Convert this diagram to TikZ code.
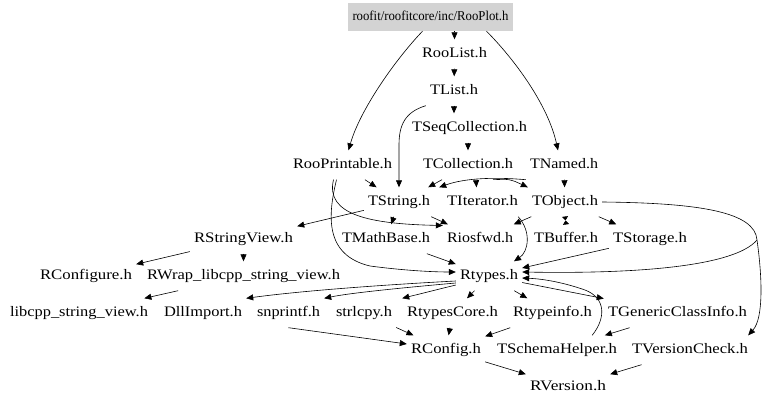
\documentclass[tikz,border=0pt]{standalone}
\usepackage{fontspec}
\setmainfont{Liberation Serif}
\usepackage{graphicx}
\usetikzlibrary{arrows.meta,calc}
\newsavebox\fwbox
\newlength\fwlen
\newcommand\fw[2]{\sbox\fwbox{#2}\setlength\fwlen{\wd\fwbox}\pgfmathsetmacro\fwsx{#1/\fwlen}\scalebox{\fwsx}[1]{\usebox\fwbox}}
\definecolor{rootfill}{RGB}{211,211,211}
\begin{document}
\begin{tikzpicture}[x=1pt,y=-1pt,
  lbl/.style={inner xsep=4pt, inner ysep=0pt, minimum height=29pt, text height=10pt, text depth=3pt, font=\fontsize{14.5}{16}\selectfont},
  rootbox/.style={fill=rootfill, inner sep=0pt, minimum width=165pt, minimum height=28pt, text height=9.5pt, text depth=3pt, font=\fontsize{13.5}{15}\selectfont},
  arr/.style={line width=0.6pt, -{Triangle[length=7pt,width=6pt]}},
  hg/.style={line width=0.6pt, -{Triangle[length=4pt,width=6pt]}}]
\useasboundingbox (0,0) rectangle (768,406);

\node[rootbox] (root) at (430.5,17) {\fw{156}{roofit/roofitcore/inc/RooPlot.h}};
\node[lbl] (RooList) at (454.5,54) {\fw{65}{RooList.h}};
\node[lbl] (TList) at (454,91) {\fw{48}{TList.h}};
\node[lbl] (TSeqCollection) at (469.5,128) {\fw{115}{TSeqCollection.h}};
\node[lbl] (RooPrintable) at (342.5,165) {\fw{99}{RooPrintable.h}};
\node[lbl] (TCollection) at (468,165) {\fw{90}{TCollection.h}};
\node[lbl] (TNamed) at (564,165) {\fw{68}{TNamed.h}};
\node[lbl] (TString) at (399,202) {\fw{62}{TString.h}};
\node[lbl] (TIterator) at (482.5,202) {\fw{71}{TIterator.h}};
\node[lbl] (TObject) at (565,202) {\fw{66}{TObject.h}};
\node[lbl] (RStringView) at (243.5,239) {\fw{99}{RStringView.h}};
\node[lbl] (TMathBase) at (386,239) {\fw{88}{TMathBase.h}};
\node[lbl] (Riosfwd) at (480,239) {\fw{66}{Riosfwd.h}};
\node[lbl] (TBuffer) at (566,239) {\fw{64}{TBuffer.h}};
\node[lbl] (TStorage) at (650,239) {\fw{74}{TStorage.h}};
\node[lbl] (RConfigure) at (86,276) {\fw{92}{RConfigure.h}};
\node[lbl] (RWrap) at (243.5,276) {\fw{193}{RWrap\_libcpp\_string\_view.h}};
\node[lbl] (Rtypes) at (489,276) {\fw{58}{Rtypes.h}};
\node[lbl] (libcpp) at (79,313) {\fw{138}{libcpp\_string\_view.h}};
\node[lbl] (DllImport) at (203,313) {\fw{78}{DllImport.h}};
\node[lbl] (snprintf) at (288.5,313) {\fw{63}{snprintf.h}};
\node[lbl] (strlcpy) at (364,313) {\fw{56}{strlcpy.h}};
\node[lbl] (RtypesCore) at (452.5,313) {\fw{91}{RtypesCore.h}};
\node[lbl] (Rtypeinfo) at (552.5,313) {\fw{79}{Rtypeinfo.h}};
\node[lbl] (TGenericClassInfo) at (677.5,313) {\fw{139}{TGenericClassInfo.h}};
\node[lbl] (RConfig) at (446,350) {\fw{70}{RConfig.h}};
\node[lbl] (TSchemaHelper) at (557,350) {\fw{120}{TSchemaHelper.h}};
\node[lbl] (TVersionCheck) at (690,350) {\fw{116}{TVersionCheck.h}};
\node[lbl] (RVersion) at (568,387) {\fw{76}{RVersion.h}};

\coordinate (objsplit) at (757,240);
\coordinate (hgmid) at ($(TObject.south)!0.5!(TBuffer.north)$);

% root
\draw[arr] (RooList.north |- root.south) -- (RooList.north);
\draw[arr] ($(root.south)+(-8,0)$) .. controls (395,60) and (360,110) .. ($(RooPrintable.north)+(6,0)$);
\draw[arr] ($(root.south)+(56,0)$) .. controls (515,60) and (548,105) .. ($(TNamed.north)+(-6,0)$);
% list chain
\draw[arr] (RooList) -- (TList);
\draw[arr] (TList.south) -- (TList.south |- TSeqCollection.north);
\draw[arr] (TList.south west) .. controls (405,112) and (399,125) .. (399,145) -- (TString.north);
\draw[arr] (TSeqCollection.south -| TCollection.north) -- (TCollection.north);
% RooPrintable
\draw[arr] (RooPrintable) -- (TString);
\draw[arr] ($(RooPrintable.south)+(-9,0)$) .. controls (325,215) and (370,224) .. ($(Riosfwd.west)+(0,-13.5)$);
\draw[arr] ($(RooPrintable.south)+(-6,0)$) .. controls (328,215) and (324,255) .. (370,266) .. controls (400,270) and (430,272) .. ($(Rtypes.west)+(0,-4)$);
% TCollection
\draw[arr] ($(TCollection.south)+(-26,0)$) -- ($(TString.north east)+(-6,0)$);
\draw[arr] ($(TCollection.south)+(8,0)$) -- ($(TIterator.north)+(-6,0)$);
\draw[arr] ($(TCollection.south)+(25,0)$) .. controls (510,179) .. (TObject.north west);
% TNamed
\draw[arr] (TNamed.south west) .. controls (495,177) and (465,178) .. ($(TString.north east)+(5,0)$);
\draw[arr] (TNamed) -- (TObject);
% TString
\draw[arr] (TString) -- (RStringView);
\draw[arr] (TString) -- (TMathBase);
\draw[arr] (TString) -- (Riosfwd);
% TIterator
\draw[arr] ($(TIterator.south east)+(-4,0)$) .. controls (532,232) and (528,252) .. ($(Rtypes.north)+(25,0)$);
% TObject
\draw[arr] (TObject) -- (Riosfwd);
\draw[hg] (TObject.south) -- (hgmid);
\draw[hg] (TBuffer.north) -- (hgmid);
\draw[arr] (TObject) -- (TStorage);
\draw[arr] (TObject.east) .. controls (700,203) and (755,212) .. (objsplit) .. controls (762,275) and (764,318) .. ($(TVersionCheck.north east)+(-4,0)$);
\draw[arr] (objsplit) .. controls (735,266) and (640,274) .. ($(Rtypes.east)+(0,-4)$);
\draw[arr] (TStorage) -- ($(Rtypes.east)+(0,-8)$);
\draw[arr] (TMathBase) -- (Rtypes);
% RStringView
\draw[arr] (RStringView) -- (RConfigure);
\draw[arr] (RStringView) -- (RWrap);
\draw[arr] (RWrap) -- (libcpp);
% Rtypes
\draw[arr] ($(Rtypes.west)+(0,5)$) .. controls (380,285) and (300,291) .. (DllImport.north east);
\draw[arr] ($(Rtypes.west)+(0,7)$) .. controls (400,288) and (350,293) .. (snprintf.north east);
\draw[arr] ($(Rtypes.west)+(0,9)$) -- ($(strlcpy.north east)+(6,0)$);
\draw[arr] (Rtypes) -- (RtypesCore);
\draw[arr] (Rtypes) -- (Rtypeinfo);
\draw[arr] (Rtypes) -- (TGenericClassInfo);
% lower
\draw[arr] (snprintf.south) -- ($(RConfig.west)+(0,-6)$);
\draw[arr] (strlcpy) -- (RConfig);
\draw[arr] (RtypesCore) -- (RConfig);
\draw[arr] (Rtypeinfo) -- (RConfig);
\draw[arr] (TGenericClassInfo) -- (TSchemaHelper);
\draw[arr] ($(TSchemaHelper.north east)+(-29,0)$) .. controls (606,318) and (606,298) .. (585,290) .. controls (565,283) and (545,279) .. ($(Rtypes.east)+(0,2)$);
\draw[arr] (RConfig) -- (RVersion);
\draw[arr] (TVersionCheck) -- (RVersion);
\end{tikzpicture}
\end{document}
